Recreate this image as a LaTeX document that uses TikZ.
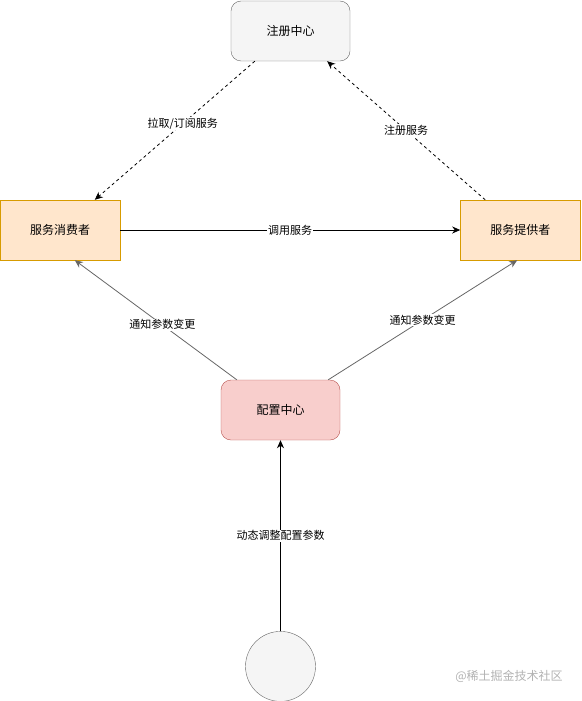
\documentclass[tikz,border=0pt]{standalone}
\usepackage{fontspec}
\setmainfont{Noto Sans CJK SC}
\usetikzlibrary{arrows.meta, positioning}

\definecolor{regfill}{HTML}{F5F5F5}
\definecolor{regdraw}{HTML}{666666}
\definecolor{rolefill}{HTML}{FFE6CC}
\definecolor{roledraw}{HTML}{D79B00}
\definecolor{cfgfill}{HTML}{F8CECC}
\definecolor{cfgdraw}{HTML}{B85450}

\begin{document}
\begin{tikzpicture}[
  x=1pt, y=-1pt,
  regbox/.style={
    draw=regdraw, fill=regfill, rounded corners=10pt,
    minimum width=119pt, minimum height=60pt,
    font=\fontsize{12}{14}\selectfont
  },
  rolebox/.style={
    draw=roledraw, fill=rolefill,
    minimum width=120pt, minimum height=60pt,
    font=\fontsize{12}{14}\selectfont
  },
  cfgbox/.style={
    draw=cfgdraw, fill=cfgfill, rounded corners=10pt,
    minimum width=119pt, minimum height=60pt,
    font=\fontsize{12}{14}\selectfont
  },
  srcnode/.style={circle, draw=regdraw, fill=regfill, minimum size=70pt},
  arr/.style={-{Stealth[length=8pt, width=7pt, inset=2.5pt]}, line width=0.8pt},
  lbl/.style={fill=white, inner sep=1pt, font=\fontsize{11}{13}\selectfont}
]
  \useasboundingbox (0,0) rectangle (581,701);

  \node[regbox] (reg) at (290.5,31) {注册中心};
  \node[rolebox] (cons) at (60,230) {服务消费者};
  \node[rolebox, right=340pt of cons] (prov) {服务提供者};
  \node[cfgbox] (cfg) at (280.5,410) {配置中心};
  \node[srcnode, below=191pt of cfg] (src) {};
  \node[text=gray!60, font=\fontsize{12}{14}\selectfont] (wm) at (509,676) {@稀土掘金技术社区};

  \draw[arr, dashed, dash pattern=on 3pt off 3pt] ([xshift=24pt]reg.south west) --
    node[lbl, pos=0.45] {拉取/订阅服务} ([xshift=95pt]cons.north west);
  \draw[arr, dashed, dash pattern=on 3pt off 3pt] ([xshift=25pt]prov.north west) --
    node[lbl, pos=0.5] {注册服务} ([xshift=-23pt]reg.south east);
  \draw[arr] (cons) -- node[lbl] {调用服务} (prov);
  \draw[arr, draw=regdraw] ([xshift=16pt]cfg.north west) --
    node[lbl, pos=0.46] {通知参数变更} ([xshift=75pt]cons.south west);
  \draw[arr, draw=regdraw] ([xshift=-12pt]cfg.north east) --
    node[lbl, pos=0.5] {通知参数变更} ([xshift=57pt]prov.south west);
  \draw[arr] (src) -- node[lbl] {动态调整配置参数} (cfg);
\end{tikzpicture}
\end{document}
